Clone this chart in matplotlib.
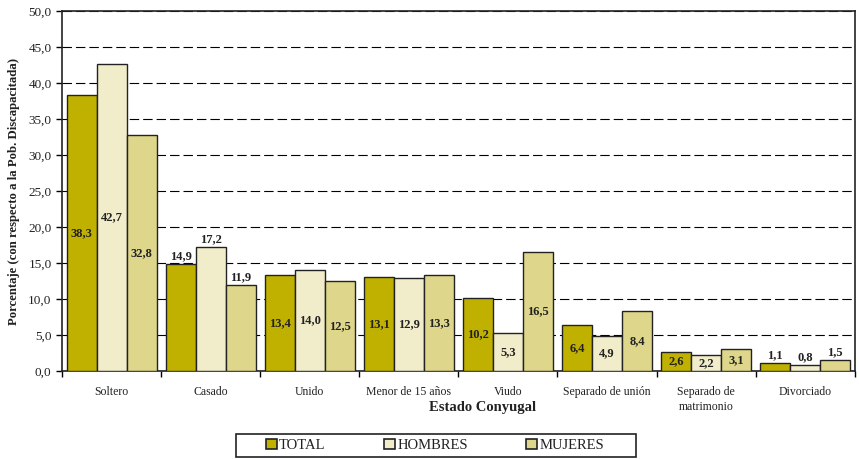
import numpy as np
import matplotlib.pyplot as plt
from matplotlib.patches import Patch, Rectangle

# Datos del grafico
categorias = ["Soltero", "Casado", "Unido", "Menor de 15 años", "Viudo",
              "Separado de unión", "Separado de\nmatrimonio", "Divorciado"]
total = [38.3, 14.9, 13.4, 13.1, 10.2, 6.4, 2.6, 1.1]
hombres = [42.7, 17.2, 14.0, 12.9, 5.3, 4.9, 2.2, 0.8]
mujeres = [32.8, 11.9, 12.5, 13.3, 16.5, 8.4, 3.1, 1.5]
series = ["TOTAL", "HOMBRES", "MUJERES"]
etiqueta_fuera = [False, True, False, False, False, False, False, True]

colores = ["#C0B000", "#F1ECC9", "#DED68A"]

plt.rcParams['font.family'] = ['Liberation Serif', 'DejaVu Serif']

fig = plt.figure(figsize=(8.59, 4.59), dpi=100)
ax = fig.add_axes([0.0722, 0.1917, 0.9228, 0.7843])

x = np.arange(len(categorias))
ancho = 0.303
for i, valores in enumerate([total, hombres, mujeres]):
    pos = x + (i - 1) * ancho
    barras = ax.bar(pos, valores, ancho, color=colores[i], edgecolor="#222222",
                    linewidth=1.0, zorder=3, label=series[i])
    for j, b in enumerate(barras):
        v = valores[j]
        txt = f"{v:.1f}".replace(".", ",")
        if etiqueta_fuera[j]:
            ax.text(b.get_x() + b.get_width() / 2, v + 0.25, txt, ha="center",
                    va="bottom", fontsize=9, fontweight="bold", color="#222222", zorder=4)
        else:
            ax.text(b.get_x() + b.get_width() / 2, v / 2, txt, ha="center",
                    va="center", fontsize=9, fontweight="bold", color="#222222", zorder=4)

ax.set_xlim(-0.5, len(categorias) - 0.5)
ax.set_ylim(0, 50)
ax.set_yticks(np.arange(0, 50.1, 5))
ax.set_yticklabels([f"{t:.1f}".replace(".", ",") for t in np.arange(0, 50.1, 5)])
ax.yaxis.grid(True, linestyle=(0, (8.5, 3.6)), color="black", linewidth=0.8, zorder=0)

# categorias centradas, marcas entre grupos
ax.set_xticks(x)
ax.set_xticklabels(categorias, fontsize=8.5, color="#222222", linespacing=1.35)
ax.tick_params(axis="x", length=0, pad=10.5)
ax.set_xticks(np.arange(-0.5, len(categorias), 1), minor=True)
ax.tick_params(axis="x", which="minor", length=4, width=1, direction="out")
ax.tick_params(axis="y", labelsize=9.5, labelcolor="#222222", length=4, width=1, direction="out")

for s in ax.spines.values():
    s.set_linewidth(1.2)
    s.set_color("#222222")

fig.text(482.5 / 859, 1 - 408 / 459, "Estado Conyugal", fontsize=10.5,
         fontweight="bold", ha="center", va="center", color="#222222")
ax.set_ylabel("Porcentaje (con respecto a la Pob. Discapacitada)", fontsize=9.2,
              fontweight="bold", labelpad=6, color="#222222")

# leyenda con marco dibujado aparte
fig.patches.append(Rectangle((236 / 859, 1 - 457 / 459), 400 / 859, 23 / 459,
                             transform=fig.transFigure, facecolor="white",
                             edgecolor="#222222", linewidth=1.2, zorder=1))
handles = [Patch(facecolor=c, edgecolor="#222222", linewidth=1.2) for c in colores]
leg = fig.legend(handles, series, loc="center", bbox_to_anchor=(435 / 859, 1 - 445.5 / 459),
                 ncol=3, frameon=False, fontsize=10.5, handlelength=0.75,
                 handleheight=0.75, handletextpad=0.15, columnspacing=4.0,
                 borderpad=0.2)
for t in leg.get_texts():
    t.set_color("#222222")

fig.savefig("out.png", dpi=100)
